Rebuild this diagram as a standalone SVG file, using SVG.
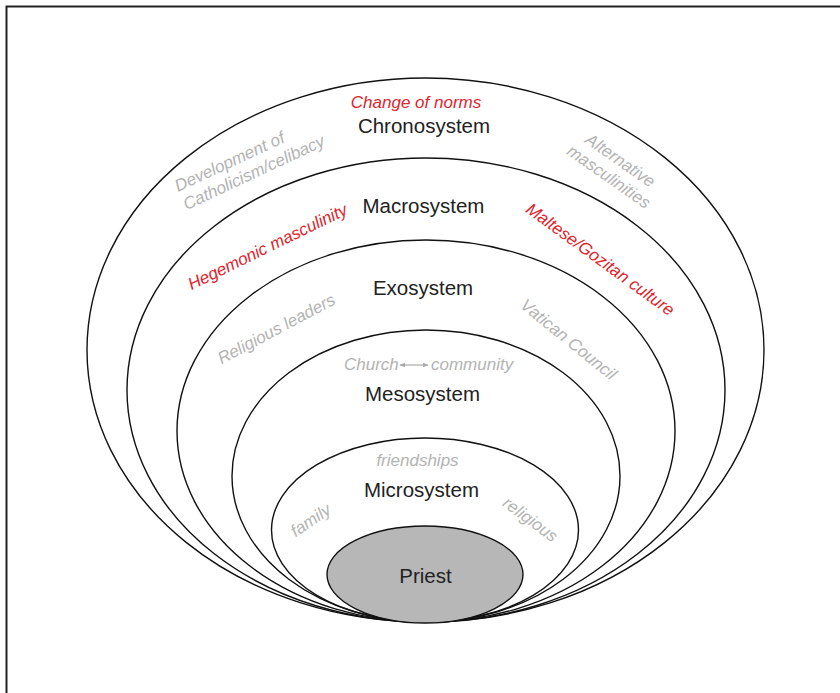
<svg xmlns="http://www.w3.org/2000/svg" width="840" height="693" viewBox="0 0 840 693">
<style>
.ring{fill:none;stroke:#111;stroke-width:1.4}
.lbl{font-family:"Liberation Sans",Arial,sans-serif;font-size:20.5px;fill:#222;text-anchor:middle}
.g{font-family:"Liberation Sans",Arial,sans-serif;font-size:17px;font-style:italic;fill:#b3b3b3}
.r{font-family:"Liberation Sans",Arial,sans-serif;font-size:17px;font-style:italic;fill:#e0242c}
.m{text-anchor:middle}
</style>
<defs>
<marker id="ah" viewBox="0 0 10 10" refX="9" refY="5" markerWidth="5" markerHeight="5" orient="auto-start-reverse">
<path d="M0,1 L10,5 L0,9 z" fill="#aaa"/>
</marker>
</defs>
<rect x="6.5" y="6.5" width="840" height="700" fill="#fff" stroke="#222" stroke-width="2"/>
<g id="chronosystem">
<ellipse class="ring" cx="425.5" cy="350" rx="338.5" ry="272"/>
<text class="r m" x="416" y="107.5">Change of norms</text>
<text class="lbl" x="424" y="133">Chronosystem</text>
<g transform="translate(178,192) rotate(-25)">
<text class="g" x="0" y="0">Development of</text>
<text class="g" x="0" y="20">Catholicism/celibacy</text>
</g>
<g transform="translate(617,165) rotate(35)">
<text class="g m" x="0" y="0">Alternative</text>
<text class="g m" x="0" y="20">masculinities</text>
</g>
</g>
<g id="macrosystem">
<ellipse class="ring" cx="426" cy="390" rx="299" ry="232"/>
<text class="lbl" x="423.5" y="213">Macrosystem</text>
<text class="r m" transform="translate(270,252) rotate(-26)">Hegemonic masculinity</text>
<text class="r m" transform="translate(597,264) rotate(36)">Maltese/Gozitan culture</text>
</g>
<g id="exosystem">
<ellipse class="ring" cx="426" cy="431" rx="249" ry="191"/>
<text class="lbl" x="423" y="295">Exosystem</text>
<text class="g m" transform="translate(279,334) rotate(-28)">Religious leaders</text>
<text class="g m" transform="translate(565,344) rotate(39)">Vatican Council</text>
</g>
<g id="mesosystem">
<ellipse class="ring" cx="426" cy="476" rx="194" ry="146"/>
<text class="lbl" x="422.5" y="400.5">Mesosystem</text>
<text class="g" x="344" y="369.5">Church</text>
<text class="g" x="431" y="369.5">community</text>
</g>
<g id="microsystem">
<ellipse class="ring" cx="425" cy="530" rx="153.5" ry="92"/>
<text class="lbl" x="421.5" y="496.5">Microsystem</text>
<text class="g m" x="417.5" y="466">friendships</text>
<text class="g m" transform="translate(314,525) rotate(-34)">family</text>
<text class="g m" transform="translate(527,524) rotate(36.5)">religious</text>
</g>
<g id="priest">
<ellipse cx="425" cy="574.5" rx="98" ry="48.5" fill="#b7b7b7" stroke="#111" stroke-width="1.4"/>
<text class="lbl" x="425.5" y="582.5">Priest</text>
</g>
<g id="connectors">
<line x1="400" y1="365" x2="428" y2="365" stroke="#aaa" stroke-width="1.2" marker-start="url(#ah)" marker-end="url(#ah)"/>
</g>
</svg>
